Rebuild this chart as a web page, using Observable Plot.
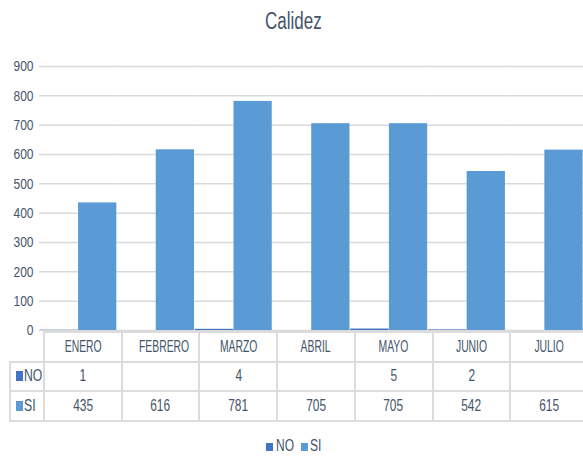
<!DOCTYPE html>
<html><head><meta charset="utf-8">
<script src="https://cdn.jsdelivr.net/npm/d3@7"></script>
<script src="https://cdn.jsdelivr.net/npm/@observablehq/plot@0.6"></script>
<style>
html,body{margin:0;padding:0;width:583px;height:456px;overflow:hidden;background:#fff;
  font-family:"Liberation Sans",sans-serif;color:#44546a;}
.sq{display:inline-block;transform:scaleX(0.8);}
.sqn{display:inline-block;transform:scaleX(0.7);}
.sqw{display:inline-block;transform:scaleX(0.61);}
#title{position:absolute;left:0;top:6px;width:587px;text-align:center;font-size:23px;line-height:30px;}
#title .sq{transform:scaleX(0.74);}
#chart{position:absolute;left:0;top:40px;}
#tbl{position:absolute;left:9px;top:331px;width:580px;border-collapse:collapse;table-layout:fixed;font-size:17px;}
#tbl td{border:2px solid #dcdcdc;height:27.5px;padding:0;text-align:center;white-space:nowrap;overflow:hidden;}
#tbl td.blank{border-left:none;border-top:none;}
#tbl td.key{text-align:left;padding-left:5px;}
#tbl td.key .sq{transform:scaleX(0.72);transform-origin:left center;}
.sw{display:inline-block;width:7px;height:10px;margin-right:1px;vertical-align:0px;}
#legend{position:absolute;left:0;top:437px;width:590px;text-align:center;font-size:16px;line-height:18px;}
#legend span.item{margin:0 2px;}
#legend .sw{width:7px;height:8px;vertical-align:0px;margin-right:0px;}
#legend .sq{transform:scaleX(0.75);}
</style></head>
<body>
<div id="title"><span class="sq">Calidez</span></div>
<div id="chart"></div>
<table id="tbl"></table>
<div id="legend"></div>
<script>
const months = ["ENERO","FEBRERO","MARZO","ABRIL","MAYO","JUNIO","JULIO"];
const seriesNames = ["NO","SI"];
const seriesColors = ["#4472c4","#5b9bd5"];
const noValues = [1, null, 4, null, 5, 2, null];
const siValues = [435, 616, 781, 705, 705, 542, 615];
const yTicks = [0,100,200,300,400,500,600,700,800,900];

const data = months.flatMap((m,i)=>[
  {month:m, series:"NO", value:noValues[i]},
  {month:m, series:"SI", value:siValues[i]}
]).filter(d=>d.value!=null);

const chart = Plot.plot({
  width:583, height:298, marginTop:26, marginBottom:8, marginLeft:39, marginRight:0,
  style:{fontFamily:'"Liberation Sans",sans-serif', fontSize:"15px", color:"#44546a", background:"transparent", overflow:"visible"},
  fx:{domain:months, padding:0, round:false, axis:null, label:null},
  x:{domain:seriesNames, padding:0.01, round:false, axis:null},
  y:{domain:[0,900], ticks:yTicks, tickSize:0, tickPadding:6, label:null},
  color:{domain:seriesNames, range:seriesColors},
  marks:[
    Plot.ruleY(yTicks, {stroke:"#d9d9d9", strokeWidth:1.5}),
    Plot.barY(data, {fx:"month", x:"series", y:"value", fill:"series"})
  ]
});
// condense tick label glyphs (reference uses a narrow font)
chart.querySelectorAll("text").forEach(t=>{
  const tr = t.getAttribute("transform");
  if (tr) t.setAttribute("transform", tr + " scale(0.8,1)");
  else {
    const x = +(t.getAttribute("x")||0), y = +(t.getAttribute("y")||0);
    t.removeAttribute("x"); t.removeAttribute("y");
    t.setAttribute("transform", `translate(${x},${y}) scale(0.8,1)`);
  }
});
document.getElementById("chart").appendChild(chart);

// data table
const tbl = document.getElementById("tbl");
const colg = document.createElement("colgroup");
[34, ...months.map(()=>77.7)].forEach(w=>{const c=document.createElement("col"); c.style.width=w+"px"; colg.appendChild(c);});
tbl.appendChild(colg);
const hr = tbl.insertRow();
const b = hr.insertCell(); b.className="blank";
months.forEach(m=>{hr.insertCell().innerHTML = `<span class="sqw">${m}</span>`;});
[noValues, siValues].forEach((vals,si)=>{
  const r = tbl.insertRow();
  const k = r.insertCell(); k.className="key";
  k.innerHTML = `<span class="sw" style="background:${seriesColors[si]}"></span><span class="sq">${seriesNames[si]}</span>`;
  vals.forEach(v=>{r.insertCell().innerHTML = v==null ? "" : `<span class="sqn">${v}</span>`;});
});

// legend
document.getElementById("legend").innerHTML = seriesNames.map((s,i)=>
  `<span class="item"><span class="sw" style="background:${seriesColors[i]}"></span><span class="sq">${s}</span></span>`).join("");
</script>
</body></html>
